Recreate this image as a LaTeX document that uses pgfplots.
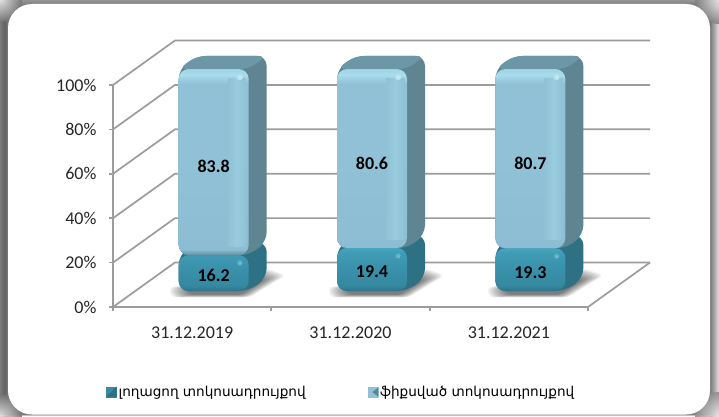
\documentclass[border=0pt]{standalone}
\usepackage{fontspec}
\setmainfont{Carlito}
\newfontfamily\armfont{DejaVu Sans}
\usepackage{pgfplots}
\pgfplotsset{compat=1.18}
\definecolor{gridc}{HTML}{9C9C9C}
\definecolor{upSide}{HTML}{5F8492}
\definecolor{upTop}{HTML}{6C97A7}
\definecolor{loSide}{HTML}{2E7084}
\definecolor{loTop}{HTML}{3B8BA3}
\definecolor{uA}{HTML}{5E8FA3}
\definecolor{uB}{HTML}{8DBDD2}
\definecolor{uC}{HTML}{90C1D6}
\definecolor{uD}{HTML}{A9DCEC}
\definecolor{uE}{HTML}{9FD2E2}
\definecolor{uF}{HTML}{99CCDF}
\definecolor{lA}{HTML}{2C7287}
\definecolor{lB}{HTML}{3588A0}
\definecolor{lC}{HTML}{3B93AD}
\definecolor{lD}{HTML}{409CB5}
\definecolor{lE}{HTML}{46A6BE}
\pgfdeclareverticalshading{upperbar}{100bp}{color(0bp)=(uA);color(25bp)=(uA);color(26.5bp)=(uB);color(50bp)=(uC);color(71bp)=(uC);color(73.5bp)=(uD);color(75bp)=(uE);color(100bp)=(uE)}
\pgfdeclareverticalshading{lowerbar}{100bp}{color(0bp)=(lA);color(25bp)=(lA);color(31bp)=(lB);color(55bp)=(lC);color(70bp)=(lD);color(75bp)=(lE);color(100bp)=(lE)}
\pgfplotsset{
  barax/.style={at={(134.5pt,125pt)},anchor=origin,width=475pt,height=222pt,scale only axis,
    xmin=0,xmax=3,ymin=0,ymax=100,hide axis,clip=false},
}
\newcommand\upperdeco[2]{% bar left x, lower value
  \shade[left color=uC,right color=uC,middle color=uF] (axis cs:#1+.31,#2+4) rectangle (axis cs:#1+.425,95.5);
  \shade[inner color=uD!55!white,outer color=uD] (axis cs:#1+.385,96.5) circle (3.5pt);
  \shade[inner color=lE!70!white,outer color=lE] (axis cs:#1+.385,#2-3.5) circle (3pt);
}
\begin{document}
\begin{tikzpicture}[x=1pt,y=1pt]
% frame
\begin{scope}
\clip (0,0) rectangle (719,416);
\fill[black!50] (0,0) rectangle (719,416);
\shade[left color=black!52,right color=black!48,middle color=black!62] (0,0) rectangle (9,416);
\shade[left color=black!58,right color=black!12] (709,0) rectangle (719,416);
\shade[top color=black!42,bottom color=black!52] (0,411) rectangle (719,416);
\fill[black!25] (0,0) rectangle (719,1.5);
\shade[inner color=black!8,outer color=black!55,opacity=.9] (0,416) circle (22);
\shade[inner color=black!8,outer color=black!50,opacity=.9] (719,416) circle (24);
\shade[inner color=black!10,outer color=black!55,opacity=.9] (0,0) circle (22);
\shade[inner color=black!8,outer color=black!45,opacity=.9] (719,0) circle (24);
\end{scope}
\fill[white,rounded corners=24pt] (8,1.5) rectangle (710,412);
% walls and floor
\begin{scope}[gridc,line width=1.7pt]
\foreach \y in {0,20,40,60,80,100}{
  \pgfmathsetmacro\yy{109+2.22*\y}
  \draw (113,\yy)--(175,\yy+44.5)--(175+475,\yy+44.5);
}
\draw (588,109)--(650,153.5);
\end{scope}
% floor shadows
\foreach \sx in {0,159,318}{
  \foreach \s in {1.06,1.02,.98,.94,.90,.86,.82,.78,.74,.70}{
    \begin{scope}[shift={(224+\sx,127)},scale=\s]
      \fill[black,opacity=.065,rounded corners=4pt] (-52,1)--(-49,-8)--(24,-8)--(58,13)--(41,19)--cycle;
    \end{scope}
  }
}
\begin{axis}[
  at={(113pt,109pt)},anchor=origin,width=475pt,height=222pt,scale only axis,
  xmin=0,xmax=3,ymin=0,ymax=100,clip=false,
  axis x line=bottom,axis y line=left,
  axis line style={gridc,line width=1.7pt,-},
  xtick={0,1,2,3},xticklabels={},
  extra x ticks={0.5,1.5,2.5},extra x tick labels={31.12.2019,31.12.2020,31.12.2021},
  extra x tick style={tick style={draw=none},grid=none},
  ytick={0,20,40,60,80,100},yticklabels={0\%,20\%,40\%,60\%,80\%,100\%},
  tick style={gridc,line width=1.7pt},
  tick align=outside,major tick length=4pt,
  ticklabel style={font=\fontsize{18}{20}\selectfont,text=black!85},
  xticklabel style={yshift=-12pt},
  yticklabel style={xshift=-9pt},
]
\end{axis}
% extrusions and lower segment
\begin{axis}[barax]
\addplot[fill=loSide,draw=none,rounded corners=10pt] coordinates {(.279,16.2)(.393,22.06)(.835,22.06)(.835,5.86)(.721,0)(.279,0)} -- cycle;
\addplot[fill=loSide,draw=none,rounded corners=10pt] coordinates {(1.279,19.4)(1.393,25.26)(1.835,25.26)(1.835,5.86)(1.721,0)(1.279,0)} -- cycle;
\addplot[fill=loSide,draw=none,rounded corners=10pt] coordinates {(2.279,19.3)(2.393,25.16)(2.835,25.16)(2.835,5.86)(2.721,0)(2.279,0)} -- cycle;
\addplot[fill=loTop,draw=none,rounded corners=8pt] coordinates {(.279,16.2)(.393,22.06)(.835,22.06)(.721,16.2)} -- cycle;
\addplot[fill=loTop,draw=none,rounded corners=8pt] coordinates {(1.279,19.4)(1.393,25.26)(1.835,25.26)(1.721,19.4)} -- cycle;
\addplot[fill=loTop,draw=none,rounded corners=8pt] coordinates {(2.279,19.3)(2.393,25.16)(2.835,25.16)(2.721,19.3)} -- cycle;
\addplot[ybar,bar width=70pt,draw=none,shade,shading=lowerbar,rounded corners=10pt] coordinates {(0.5,16.2)(1.5,19.4)(2.5,19.3)};
\addplot[fill=upSide,draw=none,rounded corners=10pt] coordinates {(.279,100)(.393,105.86)(.835,105.86)(.835,22.06)(.721,16.2)(.279,16.2)} -- cycle;
\addplot[fill=upSide,draw=none,rounded corners=10pt] coordinates {(1.279,100)(1.393,105.86)(1.835,105.86)(1.835,25.26)(1.721,19.4)(1.279,19.4)} -- cycle;
\addplot[fill=upSide,draw=none,rounded corners=10pt] coordinates {(2.279,100)(2.393,105.86)(2.835,105.86)(2.835,25.16)(2.721,19.3)(2.279,19.3)} -- cycle;
\addplot[fill=upTop,draw=none,rounded corners=8pt] coordinates {(.279,100)(.393,105.86)(.835,105.86)(.721,100)} -- cycle;
\addplot[fill=upTop,draw=none,rounded corners=8pt] coordinates {(1.279,100)(1.393,105.86)(1.835,105.86)(1.721,100)} -- cycle;
\addplot[fill=upTop,draw=none,rounded corners=8pt] coordinates {(2.279,100)(2.393,105.86)(2.835,105.86)(2.721,100)} -- cycle;
\end{axis}
% stacked upper segment
\begin{axis}[barax,ybar stacked,bar width=70pt]
\addplot[draw=none,fill=none,forget plot] coordinates {(0.5,16.2)(1.5,19.4)(2.5,19.3)};
\addplot[draw=none,shade,shading=upperbar,rounded corners=10pt,forget plot] coordinates {(0.5,83.8)(1.5,80.6)(2.5,80.7)};
\end{axis}
% highlights, labels, legend
\begin{axis}[barax,
  legend columns=2,
  legend style={at={(-31.5pt,-101pt)},anchor=west,draw=none,fill=none,
    font=\armfont\fontsize{13.6}{16}\selectfont,
    /tikz/every even column/.append style={column sep=60pt}},
]
\addlegendimage{legend image code/.code={
  \fill[loTop] (0pt,-5pt) rectangle (10pt,5pt);
  \fill[loSide] (0pt,-5pt)--(10pt,-5pt)--(10pt,5pt)--(5pt,0pt)--cycle;}}
\addlegendentry{լողացող տոկոսադրույքով}
\addlegendimage{legend image code/.code={
  \fill[uC] (0pt,-5pt) rectangle (10pt,5pt);
  \fill[upSide] (5pt,0pt)--(10pt,4pt)--(10pt,-4pt)--cycle;}}
\addlegendentry{ֆիքսված տոկոսադրույքով}
\upperdeco{.279}{16.2}
\upperdeco{1.279}{19.4}
\upperdeco{2.279}{19.3}
\tikzset{lab/.style={font=\bfseries\fontsize{18}{20}\selectfont,text=black}}
\node[lab] at (axis cs:0.5,6.8) {16.2};
\node[lab] at (axis cs:1.5,8.6) {19.4};
\node[lab] at (axis cs:2.5,8.1) {19.3};
\node[lab] at (axis cs:0.5,56.3) {83.8};
\node[lab] at (axis cs:1.5,57.6) {80.6};
\node[lab] at (axis cs:2.5,57.6) {80.7};
\end{axis}
\end{tikzpicture}
\end{document}
